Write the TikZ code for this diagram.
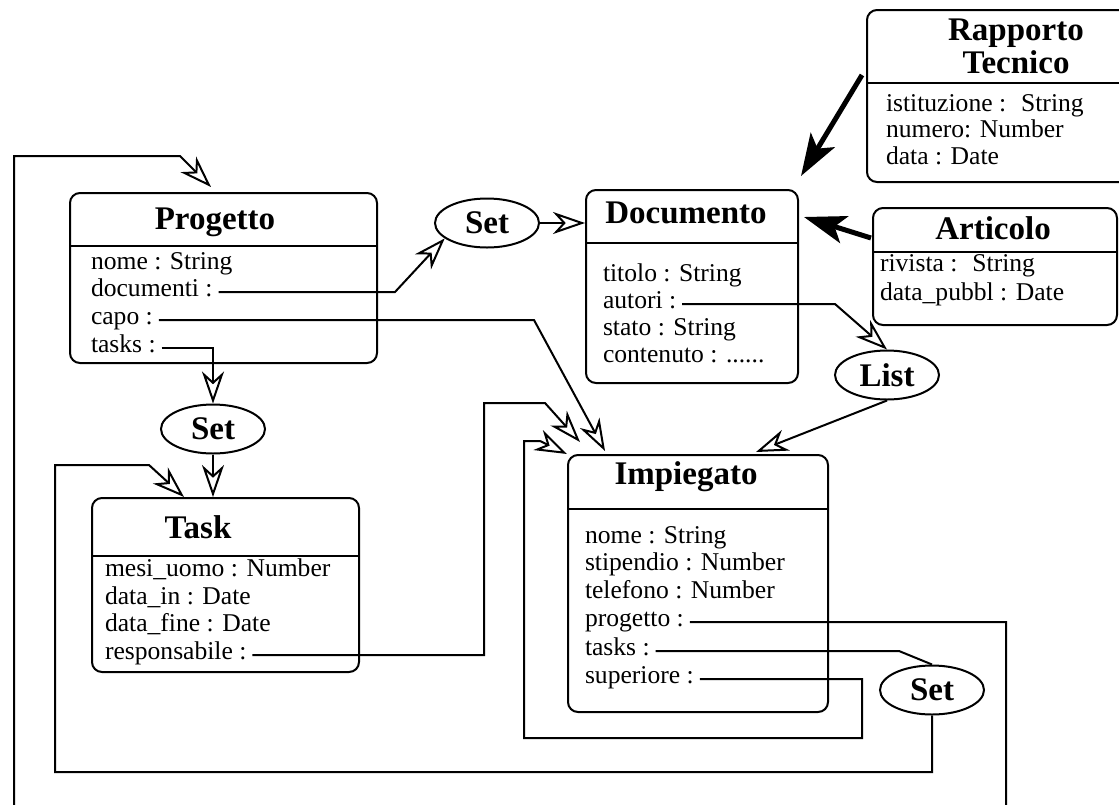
\documentclass[tikz,border=0pt]{standalone}
\usepackage{fontspec}
\setmainfont{Liberation Serif}
\usepackage{tikz}
\usetikzlibrary{positioning,arrows.meta,shapes.geometric,fit,calc}
\newcommand{\attrfont}{\fontsize{12.8}{13.8}\selectfont}
\newcommand{\titlefont}{\fontsize{16.5}{16.5}\selectfont\bfseries}
\tikzset{
  classbox/.style={draw, line width=1pt, rounded corners=5pt, inner sep=0pt},
  ctitle/.style={font=\titlefont, align=center, inner sep=0pt},
  attr/.style={anchor=west, font=\attrfont, inner sep=0pt, outer xsep=3pt,
               text height=0.68em, text depth=0.22em},
  coll/.style={ellipse, draw, line width=1pt, font=\titlefont, inner sep=0pt,
               minimum width=52pt, minimum height=24.5pt},
  sep/.style={line width=1pt},
  assoc/.style={-{Stealth[open, length=16pt, width=11pt, inset=5pt]}, line width=1pt},
  isa/.style={-{Stealth[length=21pt, width=14pt, inset=5pt]}, line width=2.5pt},
}
\begin{document}
\begin{tikzpicture}[x=0.5pt, y=-0.5pt]
  \useasboundingbox (0,0) rectangle (1119,804);

  % classes
  \node[classbox, fit={(70,193) (377,363)}] (Prog) {};
  \node[ctitle] (ProgT) at (215,222) {Progetto};
  \draw[sep] (70,246) -- (377,246);
  \node[attr] (P-nome) at (85,265) {nome : String};
  \node[attr] (P-doc) at (85,292) {documenti :};
  \node[attr] (P-capo) at (85,320) {capo :};
  \node[attr] (P-tasks) at (85,348) {tasks :};

  \node[classbox, fit={(586,190) (798,383)}] (Doc) {};
  \node[ctitle] (DocT) at (686,213) {Documento};
  \draw[sep] (586,243) -- (798,243);
  \node[attr] (D-tit) at (597,277) {titolo : String};
  \node[attr] (D-aut) at (597,304) {autori :};
  \node[attr] (D-stato) at (597,331) {stato : String};
  \node[attr] (D-cont) at (597,358) {contenuto : ......};

  \node[classbox, fit={(867,10) (1170,182)}] (RT) {};
  \node[ctitle] (RTT) at (1016,46) {Rapporto\\Tecnico};
  \draw[sep] (867,83) -- (1170,83);
  \node[attr] (R-ist) at (880,107) {istituzione : \ String};
  \node[attr] (R-num) at (880,133) {numero: Number};
  \node[attr] (R-data) at (880,160) {data : Date};

  \node[classbox, fit={(873,208) (1117,325)}] (Art) {};
  \node[ctitle] (ArtT) at (993,228) {Articolo};
  \draw[sep] (873,252) -- (1117,252);
  \node[attr] (A-riv) at (874,267) {rivista : \ String};
  \node[attr] (A-data) at (874,296) {data\_pubbl : Date};

  \node[classbox, fit={(92,498) (359,672)}] (Task) {};
  \node[ctitle] (TaskT) at (198,527) {Task};
  \draw[sep] (92,556) -- (359,556);
  \node[attr] (T-mesi) at (99,572) {mesi\_uomo : Number};
  \node[attr] (T-in) at (99,600) {data\_in : Date};
  \node[attr] (T-fine) at (99,627) {data\_fine : Date};
  \node[attr] (T-resp) at (99,655) {responsabile :};

  \node[classbox, fit={(568,455) (828,712)}] (Imp) {};
  \node[ctitle] (ImpT) at (686,477) {Impiegato};
  \draw[sep] (568,509) -- (828,509);
  \node[attr] (I-nome) at (579,539) {nome : String};
  \node[attr] (I-stip) at (579,566) {stipendio : Number};
  \node[attr] (I-tel) at (579,594) {telefono : Number};
  \node[attr] (I-prog) at (579,622) {progetto :};
  \node[attr] (I-tasks) at (579,651) {tasks :};
  \node[attr] (I-sup) at (579,679) {superiore :};

  % collections
  \node[coll] (SetD) at (487,223) {Set};
  \node[coll] (SetT) at (213,429) {Set};
  \node[coll] (List) at (887,375) {List};
  \node[coll] (SetI) at (932,690) {Set};

  % associations
  \draw[assoc] (P-doc.east) -- (395,292) -- (SetD.200);
  \draw[assoc] (SetD.east) -- (SetD.east -| Doc.west);
  \draw[assoc] (P-capo.east) -- (534,320) -- ($(Imp.north west)+(38,-3)$);
  \draw[assoc] (P-tasks.east) -| (SetT.north);
  \draw[assoc] (SetT.south) -- (SetT.south |- Task.north);
  \draw[assoc] (D-aut.east) -- (835,304) -- (List.north);
  \draw[assoc] (List.south) -- ($(Imp.north west)+(189,-2)$);
  \draw[assoc] (T-resp.east) -| (484,403) -- (545,403) -- ($(Imp.north west)+(13,-12)$);
  \draw[assoc] (I-sup.east) -| (862,738) -| (524,441) -- (540,441) -- (Imp.north west);
  \draw[line width=1pt] (I-tasks.east) -- (899,651) -- (SetI.north);
  \draw[assoc] (SetI.south) |- (55,772) -- (55,465) -- (149,465) -- ($(Task.north west)+(93,0)$);
  \draw[assoc] (I-prog.east) -| (1006,812) -| (14,156) -- (180,156) -- ($(Prog.north west)+(142,-5)$);

  % subclasses
  \draw[isa] ($(RT.north west)+(-4,66)$) -- ($(Doc.north east)+(2,-13)$);
  \draw[isa] ($(Art.north west)+(-1,31)$) -- ($(Doc.north east)+(5,28)$);
\end{tikzpicture}
\end{document}
